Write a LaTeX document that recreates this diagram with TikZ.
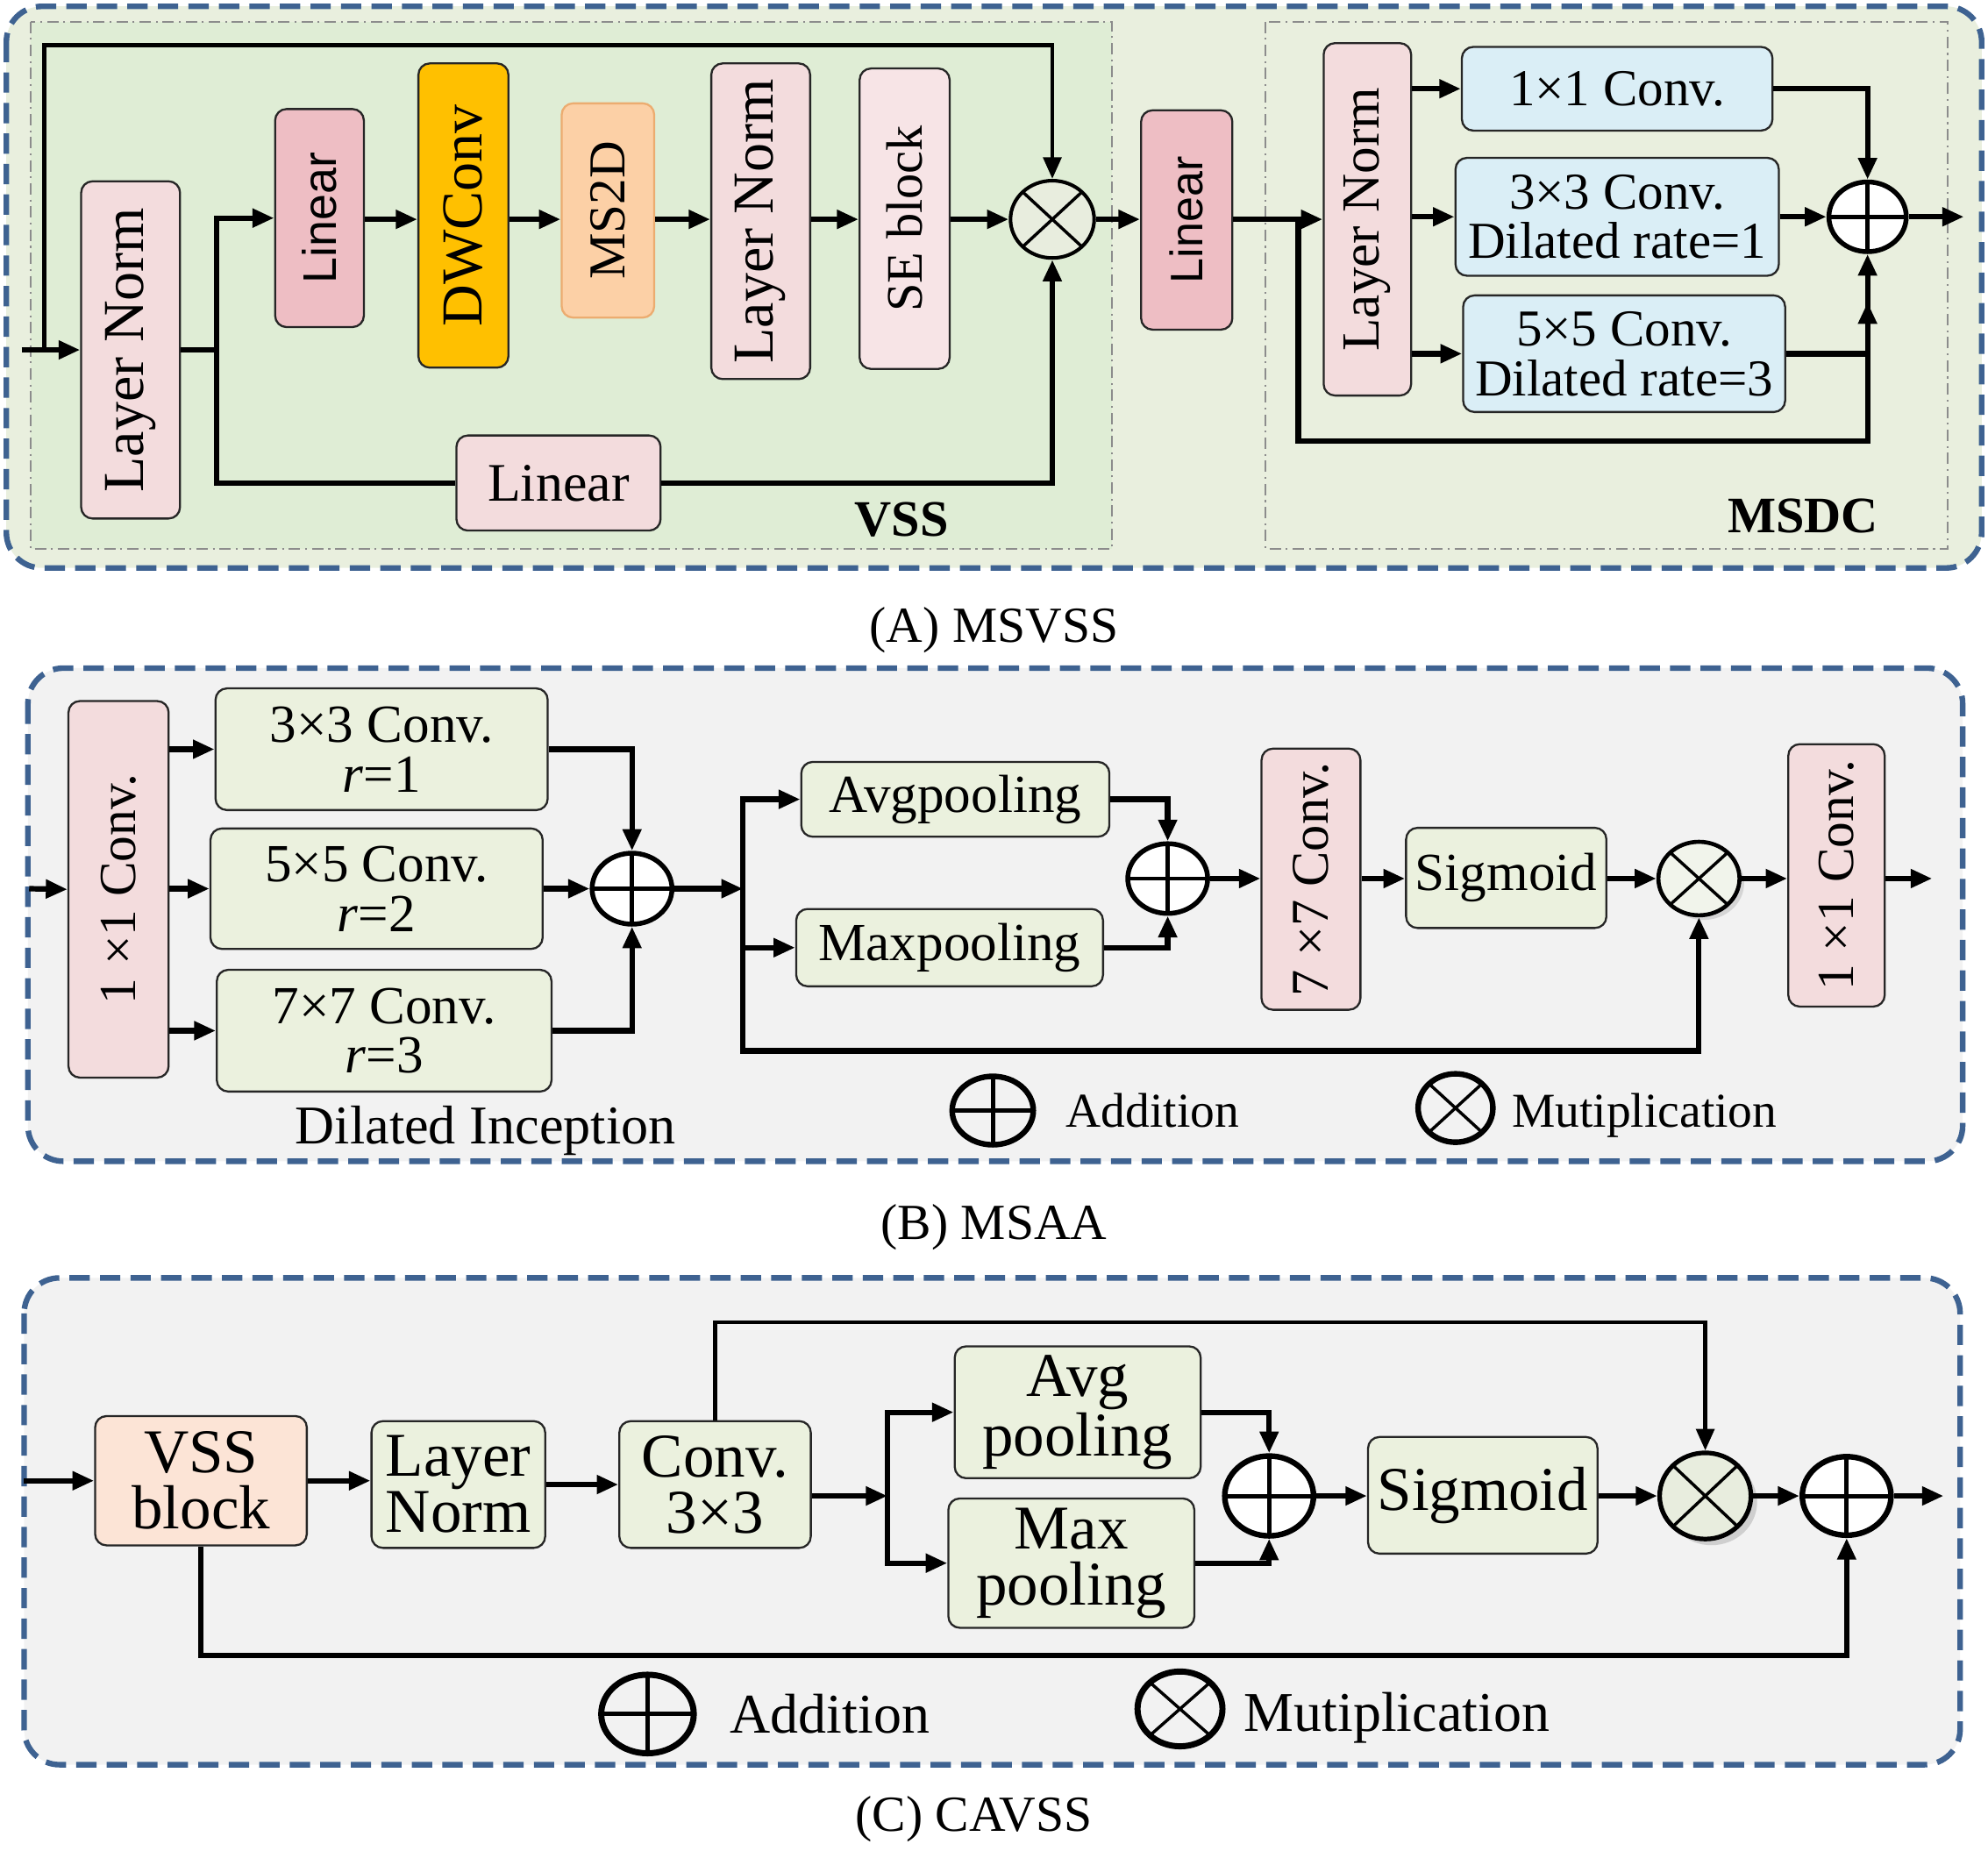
\documentclass[tikz,border=0pt]{standalone}
\usepackage{fontspec}
\setmainfont{Liberation Serif}
\newfontfamily\sansfont{Liberation Sans}
\usepackage{graphicx}
\usepackage{xcolor}
\usepackage{tikz}
\usetikzlibrary{arrows.meta,shapes.geometric,calc,shadows}

\newlength{\dpx}
\setlength{\dpx}{0.41137pt}

\definecolor{panelblue}{RGB}{62,98,145}
\definecolor{greenbg}{RGB}{233,239,222}
\definecolor{vssbg}{RGB}{223,237,213}
\definecolor{graybg}{RGB}{242,242,242}
\definecolor{pinkbox}{RGB}{243,220,221}
\definecolor{linpink}{RGB}{238,190,196}
\definecolor{dwgold}{RGB}{255,192,0}
\definecolor{msorange}{RGB}{252,208,166}
\definecolor{msline}{RGB}{236,172,112}
\definecolor{sepink}{RGB}{247,228,230}
\definecolor{convblue}{RGB}{218,238,246}
\definecolor{palegreen}{RGB}{235,241,222}
\definecolor{peach}{RGB}{252,228,214}
\definecolor{opgreen}{RGB}{232,237,222}

\begin{document}
\begin{tikzpicture}[x=0.41137pt, y=-0.41137pt,
  box/.style={draw=black!85, line width=1.6\dpx, rounded corners=9\dpx, inner sep=0pt, align=center},
  txt/.style 2 args={font=\fontsize{#1}{#2}\selectfont},
  panel/.style={draw=panelblue, line width=4.4\dpx, dash pattern=on 6.6pt off 3.3pt, rounded corners=28\dpx},
  region/.style={draw=black!45, line width=1.3\dpx, dash pattern=on 3.7pt off 1.6pt on 0.6pt off 1.6pt},
  wire/.style={line width=4.3\dpx},
  thinwire/.style={line width=3.2\dpx},
  arrow/.style={wire, -{Triangle[length=7pt,width=5.8pt]}},
  addop/.style={ellipse, draw, line width=3.8\dpx, fill=white, inner sep=0pt,
    path picture={\draw[line width=3.4\dpx] (path picture bounding box.north) -- (path picture bounding box.south)
      (path picture bounding box.west) -- (path picture bounding box.east);}},
  mulop/.style={ellipse, draw, line width=2.8\dpx, fill=opgreen, inner sep=0pt,
    path picture={\draw[line width=2.4\dpx] (path picture bounding box.north west) -- (path picture bounding box.south east)
      (path picture bounding box.north east) -- (path picture bounding box.south west);}}
]
\useasboundingbox (0,0) rectangle (1568,1460);

% ---------------- (A) MSVSS ----------------
\draw[panel, fill=greenbg] (5,5) rectangle (1563,448);
\fill[vssbg] (24,17) rectangle (877,433);
\draw[region] (24,17) rectangle (877,433);
\draw[region] (998,17) rectangle (1536,433);

% VSS part
\node[box, fill=pinkbox, minimum width=78\dpx, minimum height=266\dpx, txt={18.8}{18.8}] (ln1) at (103,276) {\rotatebox{90}{Layer Norm}};
\node[box, fill=linpink, minimum width=70\dpx, minimum height=172\dpx, txt={15.3}{15.3}] (lin1) at (252,172) {\rotatebox{90}{\sansfont Linear}};
\node[box, fill=dwgold, minimum width=71\dpx, minimum height=240\dpx, txt={18.8}{18.8}] (dw) at (365.5,170) {\rotatebox{90}{DWConv}};
\node[box, draw=msline, fill=msorange, minimum width=73\dpx, minimum height=169\dpx, txt={16.8}{16.8}] (ms) at (479.5,166) {\rotatebox{90}{MS2D}};
\node[box, fill=pinkbox, minimum width=78\dpx, minimum height=249\dpx, txt={18.8}{18.8}] (ln2) at (600,174.5) {\rotatebox{90}{Layer Norm}};
\node[box, fill=sepink, minimum width=71\dpx, minimum height=237\dpx, txt={16.6}{16.6}] (se) at (713.5,172.5) {\rotatebox{90}{SE block}};
\node[mulop, minimum width=66\dpx, minimum height=61\dpx] (mulA) at (830,173) {};
\node[box, fill=pinkbox, minimum width=161\dpx, minimum height=75\dpx, txt={17.6}{17.6}] (lin2) at (440.5,381) {Linear};
\node[font=\fontsize{16.6}{16.6}\selectfont\bfseries] (vsslbl) at (711,410) {VSS};

% MSDC part
\node[box, fill=linpink, minimum width=72\dpx, minimum height=173\dpx, txt={14.8}{14.8}] (lin3) at (936,173.5) {\rotatebox{90}{\sansfont Linear}};
\node[box, fill=pinkbox, minimum width=69\dpx, minimum height=278\dpx, txt={17.4}{17.4}] (ln3) at (1078.5,173) {\rotatebox{90}{Layer Norm}};
\node[box, fill=convblue, minimum width=245\dpx, minimum height=66\dpx, txt={16.8}{16.2}] (c1) at (1275.5,70) {1×1 Conv.};
\node[box, fill=convblue, minimum width=255\dpx, minimum height=93\dpx, txt={16.8}{16.2}] (c3) at (1275.5,171) {3×3 Conv.\\Dilated rate=1};
\node[box, fill=convblue, minimum width=254\dpx, minimum height=92\dpx, txt={16.8}{16.2}] (c5) at (1281,279) {5×5 Conv.\\Dilated rate=3};
\node[addop, minimum width=61\dpx, minimum height=55\dpx] (addA) at (1473,171) {};
\node[font=\fontsize{16.6}{16.6}\selectfont\bfseries] (msdclbl) at (1422,407) {MSDC};

% connections A
\coordinate (rowA) at (0,173);
\coordinate (inA) at (17,276);
\coordinate (skipA) at (35,276);
\coordinate (topA) at (830,35.5);
\coordinate (splitA) at (171,276);
\coordinate (splitB) at (1024,173);
\coordinate (lowB) at (1024,348);
\coordinate (outA) at (1549,171);
\draw[arrow] (inA) -- (ln1.west);
\draw[arrow, thinwire] (skipA) |- (topA) -- (mulA.north);
\draw[wire] (ln1.east |- splitA) -- (splitA);
\draw[arrow] (splitA) |- (lin1.west);
\draw[wire] (splitA) |- (lin2.west);
\foreach \a/\b in {lin1/dw, dw/ms, ms/ln2, ln2/se, se/mulA, mulA/lin3, lin3/ln3}
  \draw[arrow] (\a.east |- rowA) -- (\b.west |- rowA);
\draw[arrow] (lin2.east) -| (mulA.south);
\foreach \c in {c1, c3, c5}
  \draw[arrow] (ln3.east |- \c) -- (\c.west);
\draw[arrow] (c1.east) -| (addA.north);
\draw[arrow] (c3.east) -- (addA.west);
\draw[arrow] (c5.east) -| (addA.south);
\draw[arrow] (splitB) -- (lowB) -| ($(addA.south)+(0,38)$);
\draw[arrow] (addA.east) -- (outA);

\node[txt={16.4}{16.4}] (capA) at (784,497) {(A) MSVSS};

% ---------------- (B) MSAA ----------------
\draw[panel, fill=graybg] (22,527) rectangle (1548,916);

\node[box, fill=pinkbox, minimum width=79\dpx, minimum height=297\dpx, txt={16.9}{16.9}] (bc1) at (93.5,701.5) {\rotatebox{90}{1 ×1 Conv.}};
\node[box, fill=palegreen, minimum width=262\dpx, minimum height=96\dpx, txt={17.4}{16.1}] (b3) at (301,591) {3×3 Conv.\\\textit{r}=1};
\node[box, fill=palegreen, minimum width=262\dpx, minimum height=95\dpx, txt={17.4}{16.1}] (b5) at (297,701) {5×5 Conv.\\\textit{r}=2};
\node[box, fill=palegreen, minimum width=264\dpx, minimum height=96\dpx, txt={17.4}{16.1}] (b7) at (303,813) {7×7 Conv.\\\textit{r}=3};
\node[addop, minimum width=63\dpx, minimum height=56\dpx] (addB1) at (498.5,701) {};
\node[box, fill=palegreen, minimum width=243\dpx, minimum height=59\dpx, txt={17.4}{17.4}] (avg) at (753.5,630.5) {Avgpooling};
\node[box, fill=palegreen, minimum width=242\dpx, minimum height=61\dpx, txt={17.4}{17.4}] (maxp) at (749,747.5) {Maxpooling};
\node[addop, minimum width=63\dpx, minimum height=55\dpx] (addB2) at (921,693) {};
\node[box, fill=pinkbox, minimum width=78\dpx, minimum height=206\dpx, txt={17.2}{17.2}] (b77) at (1034,693.5) {\rotatebox{90}{7 ×7 Conv.}};
\node[box, fill=palegreen, minimum width=158\dpx, minimum height=79\dpx, txt={17.4}{17.4}] (sig) at (1188,692.5) {Sigmoid};
\node[mulop, line width=3.2\dpx, fill=opgreen!60!white, drop shadow={opacity=0.25, shadow xshift=1.5pt, shadow yshift=-1.5pt}, minimum width=64\dpx, minimum height=58\dpx] (mulB) at (1340,693) {};
\node[box, fill=pinkbox, minimum width=76\dpx, minimum height=207\dpx, txt={16.9}{16.9}] (bc2) at (1448.5,690.5) {\rotatebox{90}{1 ×1 Conv.}};

% legend B
\node[addop, fill=none, line width=4.4\dpx, minimum width=64\dpx, minimum height=54\dpx] (addLB) at (783,876) {};
\node[txt={15.8}{15.8}] (addtxtB) at (909,876) {Addition};
\node[mulop, fill=none, line width=4.4\dpx, minimum width=59\dpx, minimum height=54\dpx] (mulLB) at (1148,874) {};
\node[txt={15.8}{15.8}] (multxtB) at (1297,880) {Mutiplication};
\node[txt={17.7}{17.7}] (dillbl) at (383,892) {Dilated Inception};

% connections B
\coordinate (rowB) at (0,693);
\coordinate (inB) at (23,701);
\coordinate (splitC) at (586,701);
\coordinate (lowC) at (586,829);
\coordinate (outB) at (1524,693);
\draw[arrow] (inB) -- (bc1.west);
\foreach \b in {b3, b5, b7}
  \draw[arrow] (bc1.east |- \b) -- (\b.west);
\draw[arrow] (b3.east) -| (addB1.north);
\draw[arrow] (b5.east) -- (addB1.west);
\draw[arrow] (b7.east) -| (addB1.south);
\draw[arrow] (addB1.east) -- (splitC);
\draw[arrow] (splitC) |- (avg.west);
\draw[arrow] (splitC) |- (maxp.west);
\draw[arrow] (splitC) -- (lowC) -| (mulB.south);
\draw[arrow] (avg.east) -| (addB2.north);
\draw[arrow] (maxp.east) -| (addB2.south);
\foreach \a/\b in {addB2/b77, b77/sig, sig/mulB, mulB/bc2}
  \draw[arrow] (\a.east |- rowB) -- (\b.west |- rowB);
\draw[arrow] (bc2.east |- rowB) -- (outB);

\node[txt={16.4}{16.4}] (capB) at (784,968) {(B) MSAA};

% ---------------- (C) CAVSS ----------------
\draw[panel, fill=graybg] (19,1008) rectangle (1546,1392);

\node[box, fill=peach, minimum width=167\dpx, minimum height=102\dpx, txt={20.2}{18.2}] (vss) at (158.5,1168) {VSS\\block};
\node[box, fill=palegreen, minimum width=137\dpx, minimum height=100\dpx, txt={20.2}{18.2}] (lnC) at (361.5,1171) {Layer\\Norm};
\node[box, fill=palegreen, minimum width=151\dpx, minimum height=100\dpx, txt={20.2}{18.2}] (cv) at (564,1171) {Conv.\\3×3};
\node[box, fill=palegreen, minimum width=194\dpx, minimum height=104\dpx, txt={20.2}{18.2}] (avgC) at (850,1114) {Avg\\pooling};
\node[box, fill=palegreen, minimum width=194\dpx, minimum height=102\dpx, txt={20.2}{18.2}] (maxC) at (845,1233) {Max\\pooling};
\node[addop, line width=4.4\dpx, minimum width=70\dpx, minimum height=63\dpx] (addC1) at (1001,1180) {};
\node[box, fill=palegreen, minimum width=181\dpx, minimum height=92\dpx, txt={20.2}{20.2}] (sigC) at (1169.5,1179.5) {Sigmoid};
\node[mulop, line width=3.6\dpx, drop shadow={opacity=0.3, shadow xshift=2pt, shadow yshift=-2pt}, minimum width=72\dpx, minimum height=68\dpx] (mulC) at (1345,1180) {};
\node[addop, line width=4.4\dpx, minimum width=70\dpx, minimum height=62\dpx] (addC2) at (1456.5,1180) {};

% legend C
\node[addop, fill=none, line width=4.8\dpx, minimum width=73\dpx, minimum height=62\dpx] (addLC) at (510.7,1352) {};
\node[txt={18.2}{18.2}] (addtxtC) at (654.6,1352) {Addition};
\node[mulop, fill=none, line width=4.8\dpx, minimum width=67\dpx, minimum height=59\dpx] (mulLC) at (930.7,1348) {};
\node[txt={18.2}{18.2}] (multxtC) at (1101.7,1355) {Mutiplication};

% connections C
\coordinate (inC) at (19,1168);
\coordinate (splitD) at (700,1180);
\coordinate (topD) at (1345,1043);
\coordinate (lowD) at (0,1306);
\coordinate (outC) at (1533,1180);
\draw[arrow] (inC) -- (vss.west);
\draw[arrow] (vss.east) -- (vss.east -| lnC.west);
\draw[arrow] (lnC.east) -- (lnC.east -| cv.west);
\draw[arrow] (cv.east |- splitD) -- (splitD);
\draw[arrow] (splitD) |- (avgC.west);
\draw[arrow] (splitD) |- (maxC.west);
\draw[arrow] (avgC.east) -| (addC1.north);
\draw[arrow] (maxC.east) -| (addC1.south);
\draw[arrow] (addC1.east) -- (sigC.west |- addC1);
\draw[arrow] (sigC.east |- mulC) -- (mulC.west);
\draw[arrow] (mulC.east) -- (addC2.west);
\draw[arrow] (addC2.east) -- (outC);
\draw[arrow, thinwire] (cv.north) |- (topD) -- (mulC.north);
\draw[arrow] (vss.south) -- (vss.south |- lowD) -| (addC2.south);

\node[txt={16.4}{16.4}] (capC) at (768,1435) {(C) CAVSS};

\end{tikzpicture}
\end{document}
